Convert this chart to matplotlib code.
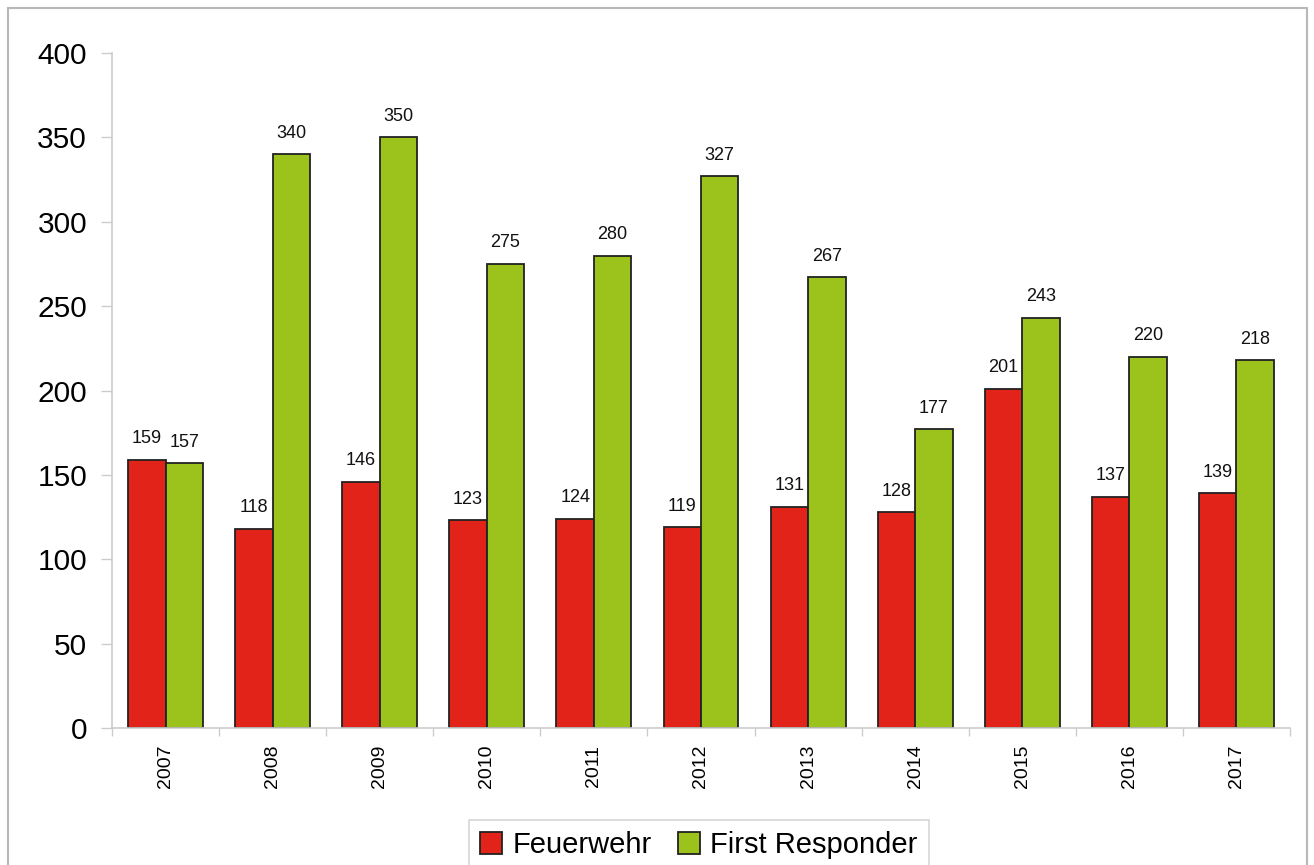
import matplotlib
matplotlib.use("Agg")
import matplotlib.pyplot as plt
import numpy as np
from matplotlib.patches import Rectangle

plt.rcParams['font.family'] = ['Liberation Sans', 'DejaVu Sans']

years = ["2007", "2008", "2009", "2010", "2011", "2012", "2013", "2014", "2015", "2016", "2017"]
feuerwehr = [159, 118, 146, 123, 124, 119, 131, 128, 201, 137, 139]
first_responder = [157, 340, 350, 275, 280, 327, 267, 177, 243, 220, 218]
series_names = ["Feuerwehr", "First Responder"]
yticks = [0, 50, 100, 150, 200, 250, 300, 350, 400]

W, H = 1314, 865
fig = plt.figure(figsize=(W / 100, H / 100), dpi=100)
fig.patch.set_facecolor('white')

# outer frame
fig.patches.append(Rectangle((8 / W, -0.1), (1307 - 8) / W, 1.1 - 8 / H,
                             transform=fig.transFigure, fill=False,
                             edgecolor='#b8b8b8', linewidth=1.5))

ax = fig.add_axes([112 / W, 1 - 728 / H, (1290 - 112) / W, (728 - 53) / H])

x = np.arange(len(years))
bw = 0.35
red = '#E2231A'
green = '#9BC31C'
ax.bar(x - bw / 2, feuerwehr, bw, color=red, edgecolor='#222222', linewidth=1.3, label=series_names[0])
ax.bar(x + bw / 2, first_responder, bw, color=green, edgecolor='#222222', linewidth=1.3, label=series_names[1])

for xi, v in zip(x - bw / 2, feuerwehr):
    ax.annotate(str(v), (xi, v), xytext=(0, 9), textcoords='offset points',
                ha='center', va='bottom', fontsize=13, color='#111111')
for xi, v in zip(x + bw / 2, first_responder):
    ax.annotate(str(v), (xi, v), xytext=(0, 9), textcoords='offset points',
                ha='center', va='bottom', fontsize=13, color='#111111')

ax.set_xlim(-0.5, len(years) - 0.5)
ax.set_ylim(0, 400)
ax.set_yticks(yticks)
ax.set_yticklabels([str(t) for t in yticks], fontsize=21.5)

ax.set_xticks(x)
ax.set_xticklabels(years, rotation=90, fontsize=14)
ax.tick_params(axis='x', length=0, pad=12)
ax.set_xticks(np.arange(-0.5, len(years)), minor=True)
ax.tick_params(axis='x', which='minor', length=6, color='#cccccc', width=1)
ax.tick_params(axis='y', length=8, color='#cccccc', width=1, pad=10)

for s in ['top', 'right']:
    ax.spines[s].set_visible(False)
for s in ['left', 'bottom']:
    ax.spines[s].set_color('#cccccc')
    ax.spines[s].set_linewidth(1.2)

leg = fig.legend(loc='upper center', bbox_to_anchor=(699 / W, 1 - 805 / H), ncol=2,
                 fontsize=21, frameon=True, fancybox=False, edgecolor='#cccccc',
                 handlelength=0.75, handleheight=0.75, handletextpad=0.35,
                 columnspacing=0.9, borderpad=0.4)
leg.get_frame().set_linewidth(1.2)

fig.savefig('out.png', dpi=100, facecolor='white')
